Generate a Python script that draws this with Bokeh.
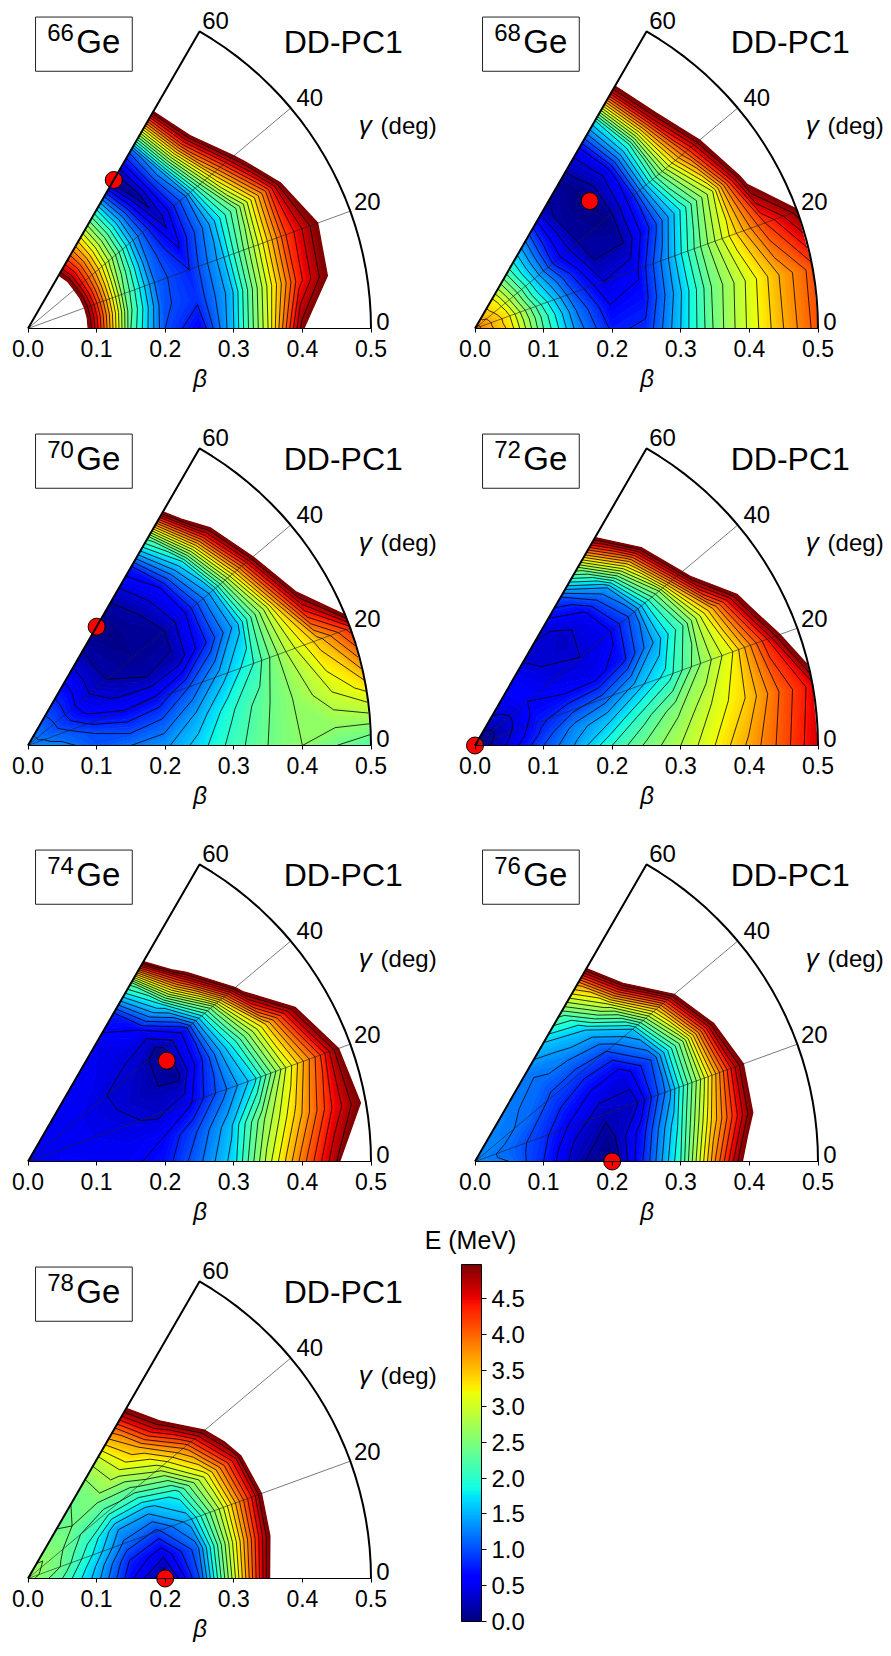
import numpy as np
from bokeh.core.properties import value
from bokeh.embed import file_html
from bokeh.layouts import column, row
from bokeh.models import ColorBar, FixedTicker, LinearColorMapper, PrintfTickFormatter
from bokeh.plotting import figure
from bokeh.resources import INLINE

beta = [0.0, 0.05, 0.1, 0.15, 0.2, 0.25, 0.3, 0.35, 0.4, 0.45, 0.5]
gamma = [0, 10, 20, 30, 40, 50, 60]

# energy surfaces in MeV, one row per gamma, one column per beta
E_66 = [
    [8.0, 6.5, 4.5, 2.2, 1.0, 0.6, 1.6, 3.0, 4.9, 7.0, 9.0],
    [8.0, 6.5, 4.5, 2.3, 1.05, 0.85, 1.5, 2.9, 4.3, 5.1, 8.0],
    [8.0, 6.5, 4.5, 2.4, 1.1, 0.8, 1.5, 2.8, 4.2, 5.0, 8.0],
    [8.0, 6.5, 4.5, 2.6, 1.2, 0.55, 1.3, 2.4, 4.0, 6.0, 9.0],
    [8.0, 6.5, 4.5, 2.9, 1.4, 0.3, 1.2, 3.4, 5.3, 7.0, 9.0],
    [8.0, 6.5, 4.6, 3.1, 1.6, 0.1, 1.4, 4.2, 6.5, 8.0, 10.0],
    [8.0, 6.5, 4.6, 3.3, 1.8, 0.0, 1.1, 4.1, 7.0, 9.0, 10.0],
]
E_68 = [
    [3.9, 3.35, 2.2, 1.3, 0.75, 0.85, 1.6, 2.45, 3.05, 3.6, 4.1],
    [3.9, 3.3, 2.15, 1.2, 0.6, 0.7, 1.5, 2.4, 3.0, 3.6, 4.1],
    [3.9, 3.3, 2.05, 1.05, 0.4, 0.55, 1.4, 2.4, 3.3, 4.2, 4.9],
    [3.9, 3.25, 1.9, 0.95, 0.2, 0.2, 0.9, 1.9, 3.0, 5.2, 7.0],
    [3.9, 3.2, 1.9, 0.75, 0.15, 0.05, 0.75, 2.4, 4.0, 5.8, 7.5],
    [3.8, 3.2, 1.9, 0.9, 0.15, 0.0, 0.5, 2.0, 4.6, 6.5, 8.0],
    [3.8, 3.2, 2.0, 1.15, 0.25, 0.1, 0.5, 1.8, 4.7, 6.5, 8.0],
]
E_70 = [
    [1.3, 1.3, 1.05, 1.2, 1.35, 1.7, 2.1, 2.4, 2.6, 2.4, 2.2],
    [1.3, 1.15, 1.0, 0.9, 1.05, 1.45, 1.95, 2.35, 2.65, 3.0, 3.3],
    [1.3, 1.1, 0.75, 0.6, 0.65, 1.0, 1.5, 2.0, 2.8, 3.5, 4.3],
    [1.3, 1.0, 0.55, 0.35, 0.2, 0.25, 0.8, 1.5, 2.9, 5.0, 7.0],
    [1.3, 1.0, 0.5, 0.2, 0.1, 0.1, 0.6, 1.5, 3.7, 6.0, 8.0],
    [1.3, 1.0, 0.6, 0.2, 0.05, 0.2, 0.6, 1.8, 4.4, 6.5, 8.0],
    [1.3, 1.0, 0.65, 0.25, 0.0, 0.25, 0.75, 2.3, 5.4, 7.0, 9.0],
]
E_72 = [
    [0.0, 0.45, 1.0, 1.45, 2.0, 2.45, 2.8, 3.2, 3.65, 4.1, 4.6],
    [0.0, 0.4, 0.85, 1.3, 1.6, 2.1, 2.55, 3.0, 3.4, 4.0, 4.5],
    [0.0, 0.35, 0.75, 0.95, 1.1, 1.5, 1.9, 2.6, 3.2, 4.3, 5.8],
    [0.0, 0.3, 0.65, 0.6, 0.5, 0.75, 1.4, 2.2, 3.6, 5.3, 7.5],
    [0.0, 0.3, 0.6, 0.45, 0.4, 0.5, 1.1, 2.6, 5.3, 7.0, 9.0],
    [0.0, 0.35, 0.6, 0.4, 0.3, 0.55, 1.4, 3.6, 6.2, 8.0, 10.0],
    [0.0, 0.4, 0.6, 0.35, 0.45, 1.0, 2.6, 5.0, 7.0, 9.0, 10.0],
]
E_74 = [
    [0.5, 0.55, 0.55, 0.55, 0.7, 1.15, 1.7, 2.9, 3.9, 4.8, 7.0],
    [0.5, 0.55, 0.5, 0.5, 0.6, 1.0, 1.55, 2.6, 3.5, 4.4, 5.1],
    [0.5, 0.5, 0.5, 0.45, 0.35, 0.55, 1.1, 1.7, 3.0, 4.1, 5.5],
    [0.5, 0.5, 0.5, 0.4, 0.25, 0.12, 0.9, 2.0, 3.4, 5.0, 7.0],
    [0.5, 0.5, 0.5, 0.4, 0.35, 0.1, 0.7, 2.5, 5.3, 7.0, 9.0],
    [0.5, 0.5, 0.5, 0.5, 0.45, 0.6, 1.8, 4.5, 7.0, 9.0, 10.0],
    [0.5, 0.5, 0.5, 0.5, 0.5, 0.8, 2.3, 6.0, 8.0, 10.0, 10.0],
]
E_76 = [
    [1.3, 1.2, 0.8, 0.25, 0.0, 0.9, 2.0, 3.8, 5.3, 7.0, 9.0],
    [1.3, 1.15, 0.85, 0.35, 0.1, 0.75, 1.8, 3.4, 4.7, 6.0, 8.0],
    [1.3, 1.15, 0.9, 0.55, 0.25, 0.35, 1.3, 2.8, 4.5, 6.0, 8.0],
    [1.3, 1.2, 1.0, 0.75, 0.55, 0.45, 1.05, 2.6, 4.9, 7.0, 9.0],
    [1.3, 1.25, 1.15, 0.95, 0.9, 1.0, 1.6, 3.6, 6.0, 8.0, 10.0],
    [1.3, 1.25, 1.2, 1.15, 1.3, 1.6, 3.0, 5.6, 8.0, 10.0, 10.0],
    [1.3, 1.25, 1.25, 1.25, 1.6, 2.3, 3.7, 6.3, 8.0, 10.0, 10.0],
]
E_78 = [
    [2.7, 2.2, 1.5, 0.65, 0.0, 1.0, 2.9, 4.9, 7.0, 9.0, 10.0],
    [2.7, 2.3, 1.6, 0.8, 0.45, 1.1, 2.9, 4.7, 6.5, 9.0, 10.0],
    [2.7, 2.4, 1.8, 1.15, 0.95, 1.5, 2.9, 4.5, 6.5, 9.0, 10.0],
    [2.7, 2.45, 2.0, 1.45, 1.5, 1.9, 3.1, 4.6, 7.0, 9.0, 10.0],
    [2.7, 2.5, 2.2, 2.1, 2.3, 2.9, 3.9, 5.4, 7.0, 9.0, 10.0],
    [2.7, 2.55, 2.4, 2.5, 2.9, 3.6, 5.0, 7.0, 9.0, 10.0, 10.0],
    [2.7, 2.5, 2.35, 2.45, 2.9, 3.9, 5.4, 7.5, 9.0, 10.0, 10.0],
]

masses = ["66", "68", "70", "72", "74", "76", "78"]
surfaces = [E_66, E_68, E_70, E_72, E_74, E_76, E_78]
min_beta = [0.25, 0.25, 0.2, 0.0, 0.25, 0.2, 0.2]
min_gamma = [60, 48, 60, 0, 36, 0, 0]

beta_ticks = [0.0, 0.1, 0.2, 0.3, 0.4, 0.5]
gamma_ticks = [0, 20, 40, 60]
gamma_label_dx = [12, 17, 19, 16]
gamma_label_dy = [-7, -10, -11, -11]
cbar_ticks = [0.0, 0.5, 1.0, 1.5, 2.0, 2.5, 3.0, 3.5, 4.0, 4.5]

FONT = value("Liberation Sans")
SCALE = 686.0  # px per unit of beta
ORIGIN_X = 27.5


def jet(n):
    t = np.linspace(0, 1, n)
    r = np.interp(t, [0, 0.35, 0.66, 0.89, 1], [0, 0, 1, 1, 0.5])
    g = np.interp(t, [0, 0.125, 0.375, 0.64, 0.91, 1], [0, 0, 1, 1, 0, 0])
    b = np.interp(t, [0, 0.11, 0.34, 0.65, 1], [0.5, 1, 1, 0, 0])
    return ["#%02x%02x%02x" % (int(a * 255), int(c * 255), int(d * 255)) for a, c, d in zip(r, g, b)]


def panel(i, width, height, above):
    p = figure(width=width, height=height, output_backend="svg", toolbar_location=None,
               x_range=(-ORIGIN_X / SCALE, (width - ORIGIN_X) / SCALE),
               y_range=((above - height) / SCALE, above / SCALE),
               min_border=0, outline_line_color=None)
    p.grid.visible = False
    p.yaxis.visible = False

    b = np.array(beta)
    g = np.radians(gamma)
    x = np.outer(np.cos(g), b)
    y = np.outer(np.sin(g), b)
    z = np.array(surfaces[i])

    # same coloured edges hide the seams between the fine bands
    fine = np.linspace(0, 4.99, 101)
    shades = jet(100)
    p.contour(x, y, z, fine, fill_color=shades, line_color=shades + shades[-1:], line_width=1.3)
    p.contour(x, y, z, np.arange(0.2, 4.81, 0.2), line_color="black", line_width=0.8)

    gm = np.radians(min_gamma[i])
    p.scatter([min_beta[i] * np.cos(gm)], [min_beta[i] * np.sin(gm)], size=17,
              fill_color="red", line_color="black", line_width=1)

    for t in gamma_ticks[1:3]:
        r = np.radians(t)
        p.line([0, 0.5 * np.cos(r)], [0, 0.5 * np.sin(r)], line_color="#222222", line_width=0.6)

    arc = np.radians(np.linspace(60, 0, 25))
    p.line(np.r_[0, 0.5 * np.cos(arc)], np.r_[0, 0.5 * np.sin(arc)], line_color="black", line_width=2)

    rim = np.radians(gamma_ticks)
    p.text(0.5 * np.cos(rim), 0.5 * np.sin(rim), text=[str(t) for t in gamma_ticks],
           x_offset=gamma_label_dx, y_offset=gamma_label_dy, text_font=FONT, text_font_size="24px",
           text_align="center", text_baseline="middle", text_color="black")

    p.quad(left=[0.011], right=[0.152], top=[0.454], bottom=[0.375], fill_color=None,
           line_color="#222222", line_width=1)
    p.text([0.028], [0.4318], text=[masses[i]], text_font=FONT, text_font_size="24px",
           text_baseline="middle")
    p.text([0.0705], [0.418], text=["Ge"], text_font=FONT, text_font_size="33px",
           text_baseline="middle")
    p.text([0.3728], [0.418], text=["DD-PC1"], text_font=FONT, text_font_size="32px",
           text_baseline="middle")
    p.text([0.482], [0.2966], text=["γ"], text_font=FONT, text_font_size="26px", text_font_style="italic",
           text_baseline="middle")
    p.text([0.514], [0.2966], text=["(deg)"], text_font=FONT, text_font_size="24px",
           text_baseline="middle")

    ax = p.xaxis[0]
    ax.fixed_location = 0
    ax.bounds = (0, 0.5)
    ax.ticker = FixedTicker(ticks=beta_ticks)
    ax.formatter = PrintfTickFormatter(format="%.1f")
    ax.minor_tick_line_color = None
    ax.major_tick_in = 0
    ax.major_tick_out = 4
    ax.major_tick_line_color = "black"
    ax.axis_line_color = "black"
    ax.axis_line_width = 1
    ax.major_label_text_font = "Liberation Sans"
    ax.major_label_text_font_size = "23px"
    ax.major_label_text_color = "black"
    ax.major_label_standoff = 7
    ax.axis_label = "β"
    ax.axis_label_text_font = "Liberation Sans"
    ax.axis_label_text_font_size = "24px"
    ax.axis_label_text_font_style = "italic"
    ax.axis_label_text_color = "black"
    ax.axis_label_standoff = 5
    return p


row1 = row(panel(0, 447, 424, 328), panel(1, 444, 424, 328))
row2 = row(panel(2, 447, 417, 321), panel(3, 444, 417, 321))
row3 = row(panel(4, 447, 387, 320), panel(5, 444, 387, 320))
p7 = panel(6, 540, 420, 350)

p7.text([0.645], [0.494], text=["E (MeV)"], text_font=FONT, text_font_size="25px",
        text_align="center", text_baseline="middle")

mapper = LinearColorMapper(palette=jet(256), low=0, high=4.98)
cbar = ColorBar(color_mapper=mapper, ticker=FixedTicker(ticks=cbar_ticks),
                formatter=PrintfTickFormatter(format="%.1f"), width=20, height=357,
                location=(461, 27), margin=0, padding=0,
                major_label_text_font="Liberation Sans",
                major_label_text_font_size="24px", major_label_text_color="black",
                major_tick_line_color="black", major_tick_in=0, major_tick_out=5, label_standoff=5,
                bar_line_color="black", border_line_color=None, background_fill_alpha=0)
p7.add_layout(cbar, "center")

page = column(row1, row2, row3, p7)
open("out.html", "w").write(file_html(page, INLINE))
